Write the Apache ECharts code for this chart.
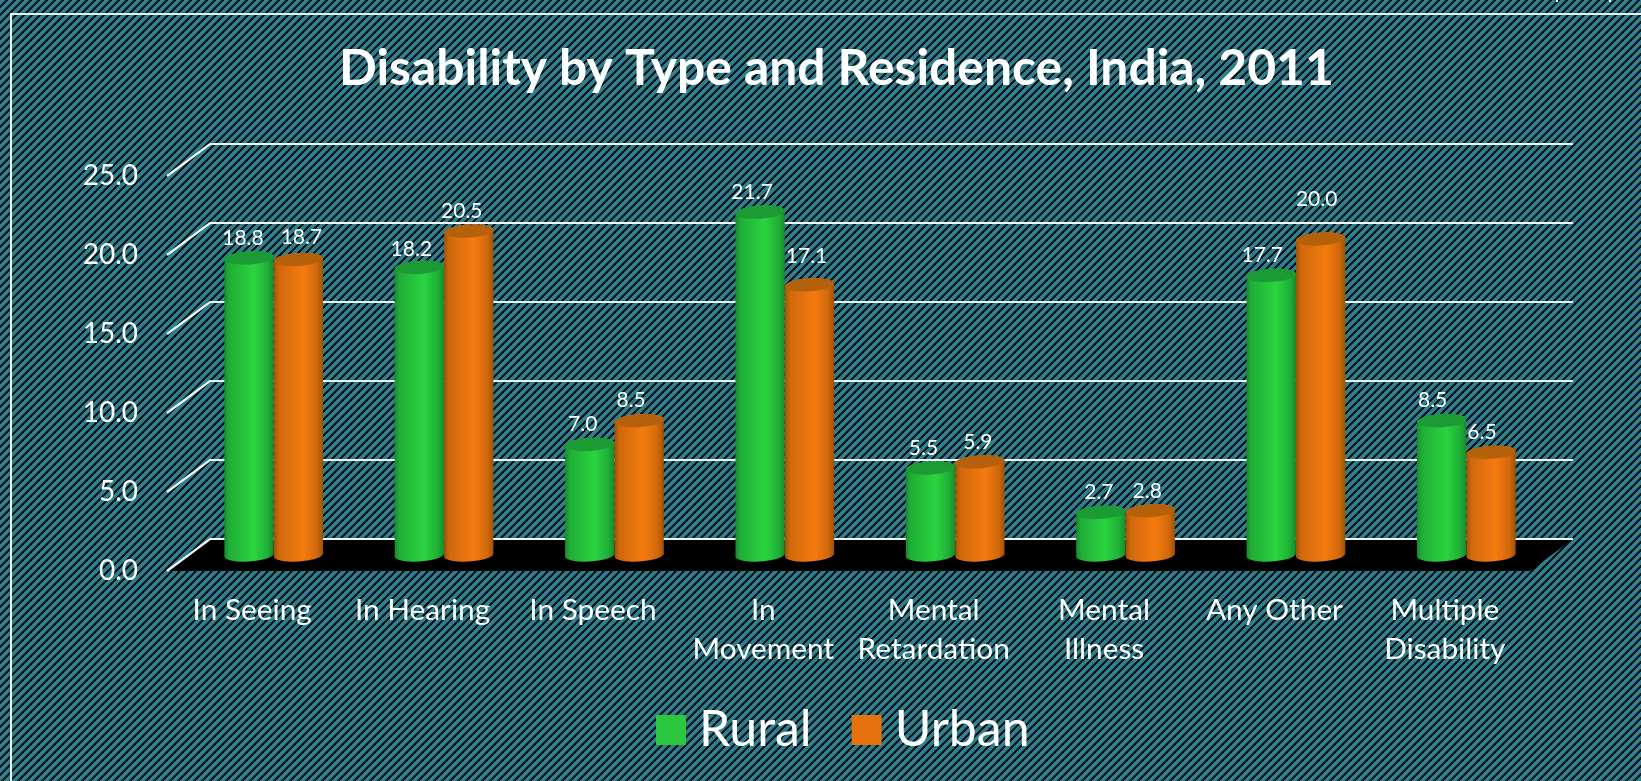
<!DOCTYPE html>
<html>
<head>
<meta charset="utf-8">
<style>html,body{margin:0;padding:0;background:#1a4f5a;overflow:hidden}#c{width:1641px;height:781px}</style>
<script src="https://cdn.jsdelivr.net/npm/echarts@6/dist/echarts.min.js"></script>
</head>
<body>
<div id="c"></div>
<script>
const titleText = 'Disability by Type and Residence, India, 2011';
const categories = ['In Seeing','In Hearing','In Speech','In\nMovement','Mental\nRetardation','Mental\nIllness','Any Other','Multiple\nDisability'];
const rural = [18.8,18.2,7.0,21.7,5.5,2.7,17.7,8.5];
const urban = [18.7,20.5,8.5,17.1,5.9,2.8,20.0,6.5];
const yTicks = [0,5,10,15,20,25];

// label placement nudges (dx, extra lift), hand-placed in the reference
const ruralNudge = [[-6,0],[-8,-2],[-7,0],[-8,0],[-7,0],[-2,0],[-9,0],[-9,0]];
const urbanNudge = [[3,2],[-7,0],[-8,0],[-3,9],[-2,0],[-3,0],[-4,20],[-9,0]];

const FONT = 'Lato, Carlito, "Open Sans", sans-serif';
const DX = 21.5, DY = 16;      // half-depth of the 3-D floor
const BAR_RATIO = 0.29;        // cylinder width over category step
const RY = 6.5, TILT = -3.6 * Math.PI / 180;

function tile(){
  const n = 8, c = document.createElement('canvas');
  c.width = n; c.height = n;
  const g = c.getContext('2d');
  for (let x = 0; x < n; x++) for (let y = 0; y < n; y++) {
    g.fillStyle = ((x + y) % n) < 5 ? '#2b7f8e' : '#0a1416';
    g.fillRect(x, y, 1, 1);
  }
  return c;
}

function ell(cx, cy, rx, t){
  const x = rx * Math.cos(t), y = RY * Math.sin(t);
  return [cx + x * Math.cos(TILT) - y * Math.sin(TILT), cy + x * Math.sin(TILT) + y * Math.cos(TILT)];
}
function arc(cx, cy, rx, a, b){
  const out = [];
  for (let i = 0; i <= 36; i++) out.push(ell(cx, cy, rx, a + (b - a) * i / 36));
  return out;
}

function cylinder(side, body, top, nudge){
  return function(params, api){
    const i = api.value(0), v = api.value(1);
    const p = api.coord([i, v]), base = api.coord([i, 0]);
    const w = api.size([1, 0])[0] * BAR_RATIO;
    const cx = p[0] + DX + side * w / 2;
    const yt = p[1] - DY, yb = base[1] - DY;
    const rx = w / 2;
    const outline = arc(cx, yb, rx, 0, Math.PI).concat(arc(cx, yt, rx, Math.PI, 2 * Math.PI));
    return {
      type: 'group',
      children: [
        { type: 'polygon', shape: { points: outline },
          style: { fill: new echarts.graphic.LinearGradient(0, 0, 1, 0, [
            { offset: 0, color: body[0] }, { offset: 0.1, color: body[1] },
            { offset: 0.6, color: body[2] }, { offset: 0.88, color: body[1] },
            { offset: 1, color: body[0] }]) } },
        { type: 'polygon', shape: { points: arc(cx, yt, rx, 0, 2 * Math.PI) }, style: { fill: top } },
        { type: 'text', style: {
            text: v.toFixed(1), x: cx + nudge[i][0], y: yt - 20 - nudge[i][1],
            fill: '#fff', font: '21px ' + FONT, align: 'center', verticalAlign: 'middle' } }
      ]
    };
  };
}

const chart = echarts.init(document.getElementById('c'), null, { renderer: 'canvas' });
chart.setOption({
  animation: false,
  backgroundColor: { image: tile(), repeat: 'repeat' },
  title: {
    text: titleText, left: 334, top: 39,
    textStyle: { color: '#fff', fontFamily: FONT, fontWeight: 'bold', fontSize: 49.8 }
  },
  legend: {
    data: ['Rural', 'Urban'], left: 651, top: 700, icon: 'rect',
    itemWidth: 30, itemHeight: 30, itemGap: 40,
    textStyle: { color: '#fff', fontFamily: FONT, fontSize: 50, padding: [0, 0, 0, 8] }
  },
  grid: { left: 167, top: 176, width: 1363, height: 395 },
  xAxis: {
    type: 'category', data: categories,
    axisLine: { show: false }, axisTick: { show: false },
    axisLabel: { interval: 0, color: '#fff', fontFamily: FONT, fontSize: 29.8, lineHeight: 39, margin: 20 }
  },
  yAxis: {
    type: 'value', min: 0, max: 25, interval: 5,
    axisLine: { show: false }, axisTick: { show: false }, splitLine: { show: false },
    axisLabel: { color: '#fff', fontFamily: FONT, fontSize: 28, margin: 29, formatter: v => v.toFixed(1) }
  },
  graphic: [
    { type: 'polyline', silent: true, shape: { points: [[11, 781], [11, 14], [1641, 14]] },
      style: { stroke: '#eef6f7', lineWidth: 2, fill: null } },
    { type: 'rect', silent: true, shape: { x: 1556, y: 0, width: 2, height: 2 }, style: { fill: '#fff' } },
    { type: 'rect', silent: true, shape: { x: 1609, y: 0, width: 2, height: 2 }, style: { fill: '#fff' } }
  ],
  series: [
    {
      name: 'walls', type: 'custom', silent: true, clip: false, z: 1,
      data: yTicks.map(v => [0, v]),
      renderItem(params, api){
        const cs = params.coordSys;
        const y = api.coord([0, api.value(1)])[1];
        const kids = [];
        if (api.value(1) === 0) {
          kids.push({ type: 'polygon',
            shape: { points: [[cs.x, y], [cs.x + 2 * DX, y - 2 * DY],
                              [cs.x + cs.width + 2 * DX, y - 2 * DY], [cs.x + cs.width, y]] },
            style: { fill: '#000' } });
        }
        kids.push({ type: 'polyline',
          shape: { points: [[cs.x, y], [cs.x + 2 * DX, y - 2 * DY], [cs.x + cs.width + 2 * DX, y - 2 * DY]] },
          style: { stroke: '#f2f7f8', lineWidth: 2.2, fill: null } });
        return { type: 'group', children: kids };
      }
    },
    {
      name: 'Rural', type: 'custom', clip: false, z: 2,
      itemStyle: { color: '#2bc83f' },
      data: rural.map((v, i) => [i, v]),
      renderItem: cylinder(-1, ['#178a2c', '#1fae36', '#2bd341'], '#1c9a33', ruralNudge)
    },
    {
      name: 'Urban', type: 'custom', clip: false, z: 3,
      itemStyle: { color: '#e5720d' },
      data: urban.map((v, i) => [i, v]),
      renderItem: cylinder(1, ['#9c5208', '#d0680c', '#f47b10'], '#b5600b', urbanNudge)
    }
  ]
});
</script>
</body>
</html>
